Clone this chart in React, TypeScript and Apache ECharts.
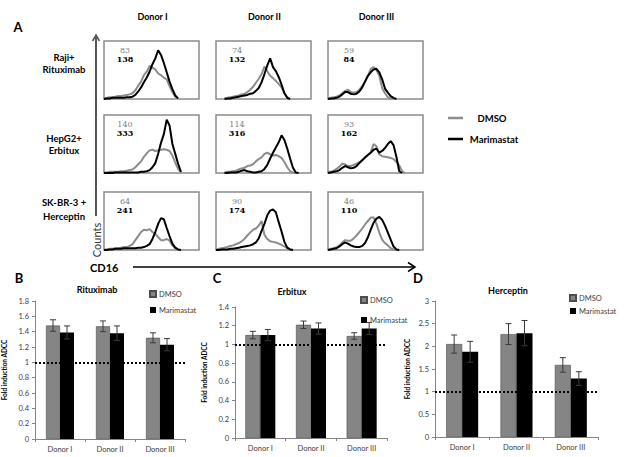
import React, { useEffect, useRef } from "react";
import * as echarts from "echarts";

// ---------- Panel A : CD16 histograms ----------
const donors = ["Donor I", "Donor II", "Donor III"];
const cellLines = [
  ["Raji+", "Rituximab"],
  ["HepG2+", "Erbitux"],
  ["SK-BR-3 +", "Herceptin"],
];
const histBins = [0, 3, 6, 9, 12, 15, 18, 21, 24, 27, 30, 33, 36, 39, 42, 45, 48, 51, 54, 57, 60, 63, 66, 69, 72, 75, 78, 81, 84, 87, 90, 93, 96, 99];

const rajiD1Dmso = [1, 2, 3, 3, 4, 5, 5, 6, 7, 8, 10, 15, 23, 30, 41, 47, 57, 54, 51, 44, 41, 37, 34, 22, 12, 4, 1];
const rajiD1Mari = [0, 1, 1, 2, 2, 2, 2, 2, 3, 3, 4, 7, 13, 20, 29, 37, 47, 60, 70, 84, 76, 62, 46, 30, 17, 6, 1];
const rajiD2Dmso = [null, null, null, 1, 2, 3, 4, 5, 6, 8, 9, 12, 16, 21, 28, 35, 43, 56, 48, 40, 36, 31, 26, 20, 10, 3, 0];
const rajiD2Mari = [null, null, null, 0, 1, 1, 2, 3, 4, 5, 6, 7, 9, 10, 14, 19, 29, 43, 58, 70, 55, 48, 38, 25, 10, 2, 0];
const rajiD3Dmso = [1, 2, 3, 4, 6, 10, 14, 16, 12, 11, 12, 16, 22, 30, 40, 52, 55, 50, 40, 19, 10, 3, 1, 0];
const rajiD3Mari = [0, 1, 1, 2, 4, 8, 12, 12, 9, 8, 9, 13, 20, 30, 40, 46, 51, 52, 46, 34, 18, 11, 5, 2, 0];

const hepD1Dmso = [1, 1, 2, 2, 2, 2, 3, 3, 4, 5, 6, 10, 15, 20, 28, 34, 39, 40, 38, 39, 40, 41, 40, 38, 30, 18, 7, 1];
const hepD1Mari = [0, 0, 0, 0, 1, 1, 1, 1, 1, 1, 1, 1, 1, 2, 2, 3, 5, 10, 17, 33, 52, 67, 92, 82, 50, 33, 16, 2];
const hepD2Dmso = [null, null, null, 1, 2, 2, 3, 4, 6, 8, 9, 12, 13, 15, 20, 24, 27, 33, 35, 32, 30, 31, 29, 26, 19, 10, 3, 1, 0];
const hepD2Mari = [null, null, null, 0, 0, 1, 1, 1, 2, 4, 5, 3, 2, 1, 1, 2, 3, 7, 14, 25, 35, 44, 53, 65, 57, 42, 25, 9, 1, 0];
const hepD3Dmso = [2, 2, 4, 7, 11, 16, 15, 12, 12, 14, 16, 19, 22, 26, 31, 36, 50, 46, 32, 29, 28, 27, 26, 24, 19, 13, 3, 0];
const hepD3Mari = [0, 1, 2, 3, 5, 9, 12, 10, 8, 9, 12, 17, 22, 27, 31, 35, 40, 42, 35, 38, 43, 50, 55, 48, 28, 3, 0];

const skD1Dmso = [1, 1, 2, 2, 3, 3, 4, 5, 5, 7, 10, 17, 24, 31, 35, 34, 36, 31, 28, 22, 17, 17, 19, 16, 8, 3, 0];
const skD1Mari = [0, 0, 1, 1, 2, 2, 2, 3, 3, 3, 3, 3, 4, 4, 5, 7, 10, 19, 31, 45, 55, 53, 38, 24, 11, 4, 1, 0];
const skD2Dmso = [1, 2, 3, 4, 5, 7, 8, 10, 12, 15, 19, 25, 30, 35, 37, 42, 50, 26, 19, 15, 14, 13, 11, 9, 6, 3, 1, 0];
const skD2Mari = [0, 0, 1, 1, 1, 2, 2, 3, 4, 5, 6, 7, 8, 10, 13, 20, 33, 45, 60, 68, 70, 65, 48, 32, 14, 4, 1, 0];
const skD3Dmso = [1, 2, 3, 5, 8, 13, 17, 16, 16, 20, 25, 31, 37, 44, 50, 56, 56, 45, 30, 18, 12, 8, 3, 1, 0];
const skD3Mari = [0, 1, 2, 3, 6, 10, 13, 11, 8, 6, 5, 5, 7, 12, 22, 35, 47, 54, 57, 52, 42, 30, 18, 6, 1, 0];

const histDmso = [
  [rajiD1Dmso, rajiD2Dmso, rajiD3Dmso],
  [hepD1Dmso, hepD2Dmso, hepD3Dmso],
  [skD1Dmso, skD2Dmso, skD3Dmso],
];
const histMari = [
  [rajiD1Mari, rajiD2Mari, rajiD3Mari],
  [hepD1Mari, hepD2Mari, hepD3Mari],
  [skD1Mari, skD2Mari, skD3Mari],
];
const dmsoMfi = [["83", "74", "59"], ["140", "114", "93"], ["64", "90", "46"]];
const mariMfi = [["138", "132", "84"], ["333", "316", "162"], ["241", "174", "110"]];

// ---------- Panels B, C, D : fold induction ADCC ----------
const barTitles = ["Rituximab", "Erbitux", "Herceptin"];
const ritDmso = [1.48, 1.47, 1.32];
const ritDmsoErr = [0.075, 0.07, 0.065];
const ritMari = [1.39, 1.38, 1.23];
const ritMariErr = [0.085, 0.095, 0.08];
const erbDmso = [1.1, 1.21, 1.09];
const erbDmsoErr = [0.04, 0.04, 0.035];
const erbMari = [1.1, 1.17, 1.17];
const erbMariErr = [0.06, 0.06, 0.065];
const herDmso = [2.05, 2.27, 1.59];
const herDmsoErr = [0.2, 0.23, 0.16];
const herMari = [1.88, 2.29, 1.29];
const herMariErr = [0.23, 0.28, 0.15];
const yMaxes = [1.8, 1.4, 3];
const yIntervals = [0.2, 0.2, 0.5];
const baseline = 1;

const FONT = "Lato";
const GRAY = "#8c8c8c";

export default function App() {
  const ref = useRef<HTMLDivElement>(null);
  useEffect(() => {
    if (!ref.current) return;
    const chart = echarts.init(ref.current, undefined, { renderer: "svg" });

    const COLS = [104, 216, 328];
    const ROWS = [41, 115, 192];
    const BW = 95;
    const BH = 58;

    const grids: any[] = [];
    const xAxes: any[] = [];
    const yAxes: any[] = [];
    const series: any[] = [];
    const graphic: any[] = [];

    const txt = (text: string, x: number, y: number, size: number, opts: any = {}) => ({
      type: "text",
      x,
      y,
      rotation: opts.rotation || 0,
      silent: true,
      style: {
        text,
        x: 0,
        y: 0,
        fill: opts.fill || "#000",
        fontSize: size,
        fontWeight: opts.weight || "bold",
        fontFamily: opts.family || FONT,
        align: opts.align || "center",
        verticalAlign: "middle",
        textAlign: opts.align || "center",
        textVerticalAlign: "middle",
      },
    });

    // histogram grids
    for (let r = 0; r < 3; r++) {
      for (let c = 0; c < 3; c++) {
        const gi = grids.length;
        grids.push({
          left: COLS[c],
          top: ROWS[r],
          width: BW,
          height: BH,
          show: true,
          borderColor: "#8a8a8a",
          borderWidth: 1.5,
          backgroundColor: "transparent",
        });
        xAxes.push({ type: "value", gridIndex: gi, min: 0, max: 100, show: false });
        yAxes.push({ type: "value", gridIndex: gi, min: 0, max: 100, show: false });
        series.push({
          type: "line",
          name: "histDmso",
          xAxisIndex: gi,
          yAxisIndex: gi,
          symbol: "none",
          lineStyle: { color: GRAY, width: 2 },
          data: histDmso[r][c].map((v, i) => [histBins[i], v]),
          connectNulls: false,
        });
        series.push({
          type: "line",
          name: "histMari",
          xAxisIndex: gi,
          yAxisIndex: gi,
          symbol: "none",
          lineStyle: { color: "#000", width: 2 },
          data: histMari[r][c].map((v, i) => [histBins[i], v]),
          connectNulls: false,
        });
        graphic.push(txt(dmsoMfi[r][c], COLS[c] + 21, ROWS[r] + 9, 8, { weight: "normal", fill: "#808080", family: "DejaVu Serif" }));
        graphic.push(txt(mariMfi[r][c], COLS[c] + 21, ROWS[r] + 18, 8, { weight: "bold", fill: "#000", family: "DejaVu Serif" }));
      }
    }

    // bar grids
    const barGrids = [
      { left: 35, top: 301, width: 150, height: 138 },
      { left: 235, top: 307, width: 152, height: 131 },
      { left: 435, top: 301, width: 163, height: 136 },
    ];
    const barWidths = [14, 15, 16];
    const dm = [ritDmso, erbDmso, herDmso];
    const dmE = [ritDmsoErr, erbDmsoErr, herDmsoErr];
    const mm = [ritMari, erbMari, herMari];
    const mmE = [ritMariErr, erbMariErr, herMariErr];
    const nameGaps = [27, 27, 24];

    const errSeries = (gi: number, vals: number[], errs: number[], offset: number) => ({
      type: "custom",
      xAxisIndex: gi,
      yAxisIndex: gi,
      silent: true,
      z: 5,
      data: vals.map((v, i) => [i, v - errs[i], v + errs[i]]),
      encode: { x: 0, y: [1, 2] },
      renderItem: (_p: any, api: any) => {
        const lo = api.coord([api.value(0), api.value(1)]);
        const hi = api.coord([api.value(0), api.value(2)]);
        const x = lo[0] + offset;
        const cap = 3;
        const st = { stroke: "#3a3a3a", lineWidth: 1 };
        return {
          type: "group",
          children: [
            { type: "line", shape: { x1: x, y1: lo[1], x2: x, y2: hi[1] }, style: st },
            { type: "line", shape: { x1: x - cap, y1: lo[1], x2: x + cap, y2: lo[1] }, style: st },
            { type: "line", shape: { x1: x - cap, y1: hi[1], x2: x + cap, y2: hi[1] }, style: st },
          ],
        };
      },
    });

    for (let k = 0; k < 3; k++) {
      const gi = grids.length;
      grids.push({ ...barGrids[k], show: false });
      xAxes.push({
        type: "category",
        gridIndex: gi,
        data: donors,
        axisLine: { lineStyle: { color: "#868686", width: 1 } },
        axisTick: { show: true, length: 3, lineStyle: { color: "#868686" } },
        axisLabel: { fontSize: 7.5, color: "#404040", margin: 6, fontFamily: FONT },
      });
      yAxes.push({
        type: "value",
        gridIndex: gi,
        min: 0,
        max: yMaxes[k],
        interval: yIntervals[k],
        axisLine: { show: true, lineStyle: { color: "#868686", width: 1 } },
        axisTick: { show: true, length: 3, lineStyle: { color: "#868686" } },
        splitLine: { show: false },
        axisLabel: { fontSize: 7.5, color: "#404040", margin: 6, fontFamily: FONT },
        name: "Fold induction ADCC",
        nameLocation: "middle",
        nameRotate: 90,
        nameGap: nameGaps[k],
        nameTextStyle: { fontSize: 6.5, fontWeight: "bold", color: "#000", fontFamily: FONT },
      });
      const bw = barWidths[k];
      series.push({
        type: "bar",
        name: "DMSO",
        xAxisIndex: gi,
        yAxisIndex: gi,
        barWidth: bw,
        barGap: "0%",
        itemStyle: { color: "#858585", borderColor: "#4d4d4d", borderWidth: 0.6 },
        data: dm[k],
        markLine: {
          silent: true,
          symbol: ["none", "none"],
          label: { show: false },
          lineStyle: { color: "#000", type: [2, 2], width: 2 },
          data: [{ yAxis: baseline }],
          z: 10,
        },
      });
      series.push({
        type: "bar",
        name: "Marimastat",
        xAxisIndex: gi,
        yAxisIndex: gi,
        barWidth: bw,
        barGap: "0%",
        itemStyle: { color: "#000" },
        data: mm[k],
      });
      series.push(errSeries(gi, dm[k], dmE[k], -bw / 2));
      series.push(errSeries(gi, mm[k], mmE[k], bw / 2));
    }

    const legendBase = {
      orient: "vertical",
      icon: "rect",
      itemWidth: 6,
      itemHeight: 6,
      data: ["DMSO", "Marimastat"],
      textStyle: { fontSize: 7.5, color: "#404040", fontFamily: FONT, padding: [0, 0, 0, -2] },
      selectedMode: false,
      padding: 0,
    };
    const legends = [
      { ...legendBase, left: 149, top: 290, itemGap: 8 },
      { ...legendBase, left: 360, top: 296, itemGap: 12 },
      { ...legendBase, left: 569, top: 294, itemGap: 5 },
    ];

    // ---- free text and arrows ----
    graphic.push(txt("A", 18, 27, 13));
    graphic.push(txt("B", 19, 278, 13));
    graphic.push(txt("C", 217, 278, 13));
    graphic.push(txt("D", 418, 278, 13));
    for (let c = 0; c < 3; c++) graphic.push(txt(donors[c], COLS[c] + BW / 2 + 1, 16, 9));
    const rowLabelY = [[57, 69], [138, 150], [202, 216]];
    for (let r = 0; r < 3; r++) {
      graphic.push(txt(cellLines[r][0], 64, rowLabelY[r][0], 9.5));
      graphic.push(txt(cellLines[r][1], 64, rowLabelY[r][1], 9.5));
    }
    // Counts axis
    graphic.push({ type: "line", silent: true, shape: { x1: 96, y1: 37, x2: 96, y2: 216 }, style: { stroke: "#555", lineWidth: 2 } });
    graphic.push({ type: "polyline", silent: true, shape: { points: [[92.5, 41], [96, 35], [99.5, 41]] }, style: { stroke: "#555", lineWidth: 1.5, fill: null } });
    graphic.push(txt("Counts", 96, 240, 11, { weight: "normal", fill: "#333", rotation: Math.PI / 2 }));
    graphic.push(txt("CD16", 90, 267, 11, { align: "left" }));
    graphic.push({ type: "line", silent: true, shape: { x1: 133, y1: 267, x2: 414, y2: 267 }, style: { stroke: "#000", lineWidth: 1.5 } });
    graphic.push({ type: "polyline", silent: true, shape: { points: [[408, 262.5], [415, 267], [408, 271.5]] }, style: { stroke: "#000", lineWidth: 1.5, fill: null } });
    // histogram legend
    graphic.push({ type: "line", silent: true, shape: { x1: 448, y1: 118, x2: 463, y2: 118 }, style: { stroke: GRAY, lineWidth: 2.5 } });
    graphic.push({ type: "line", silent: true, shape: { x1: 448, y1: 139, x2: 463, y2: 139 }, style: { stroke: "#000", lineWidth: 2.5 } });
    graphic.push(txt("DMSO", 492, 118, 9.5));
    graphic.push(txt("Marimastat", 494, 139, 9.5));
    // bar chart titles
    graphic.push(txt(barTitles[0], 97, 289, 9));
    graphic.push(txt(barTitles[1], 292, 291, 9));
    graphic.push(txt(barTitles[2], 508, 290, 9));

    chart.setOption({
      animation: false,
      backgroundColor: "#fff",
      textStyle: { fontFamily: FONT },
      grid: grids,
      xAxis: xAxes,
      yAxis: yAxes,
      legend: legends,
      series,
      graphic,
    });
    return () => chart.dispose();
  }, []);
  return <div ref={ref} style={{ position: "absolute", left: 0, top: 0, width: 640, height: 457 }} />;
}
